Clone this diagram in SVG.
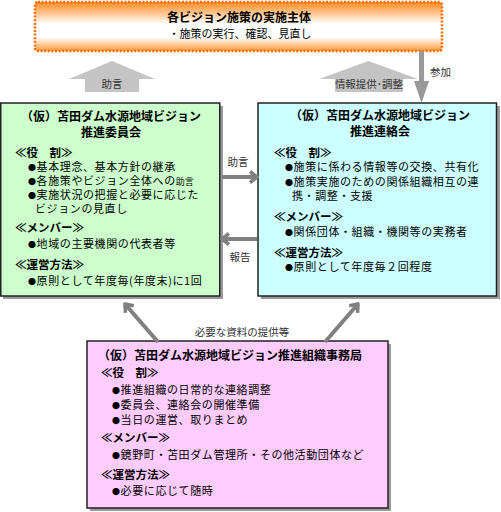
<svg xmlns="http://www.w3.org/2000/svg" width="501" height="512" viewBox="0 0 501 512">
<defs>
<linearGradient id="og" x1="0" y1="0" x2="0" y2="1">
<stop offset="0" stop-color="#ff8a1e"/>
<stop offset="0.45" stop-color="#ffffff"/>
<stop offset="0.72" stop-color="#ffffff"/>
<stop offset="1" stop-color="#ff9a3a"/>
</linearGradient>
<marker id="chev" viewBox="0 0 12 14" refX="10" refY="7" markerWidth="12" markerHeight="14" orient="auto" markerUnits="userSpaceOnUse">
<path d="M3,1.5 L10,7 L3,12.5" fill="none" stroke="#808080" stroke-width="3.5"/>
</marker>
</defs>
<style>
text{font-family:"Noto Sans CJK JP","Liberation Sans",sans-serif;fill:#000}
.t{font-size:12px;font-weight:bold;text-anchor:middle}
.h{font-size:11.5px;font-weight:bold}
.b{font-size:11px;letter-spacing:0.6px}
.d{font-size:8px}
.lbl{font-size:10.5px;fill:#333}
.box{stroke:#222;stroke-width:1.5}
.sh{fill:#9a9a9a}
.con{stroke:#808080;stroke-width:4;fill:none}
.blk{fill:#c4c4c4}
</style>
<rect width="501" height="512" fill="#fff"/>

<g id="top">
<rect x="35" y="2" width="407" height="49" rx="3" fill="url(#og)" stroke="#ff6a00" stroke-width="2.5" stroke-dasharray="2 1.6"/>
<text class="t" x="239" y="22">各ビジョン施策の実施主体</text>
<text x="240" y="38" style="font-size:11px;text-anchor:middle">・施策の実行、確認、見直し</text>
</g>

<g id="committee">
<rect class="sh" x="3" y="106" width="220" height="193"/>
<rect class="box" x="0.75" y="103" width="219" height="193" fill="#ccffcc"/>
<text class="t" x="111" y="121">（仮）苫田ダム水源地域ビジョン</text>
<text class="t" x="111" y="137">推進委員会</text>
<text class="h" x="15" y="157">≪役　割≫</text>
<text class="b" x="28" y="171"><tspan class="d">●</tspan>基本理念、基本方針の継承</text>
<text class="b" x="28" y="185"><tspan class="d">●</tspan>各施策やビジョン全体への<tspan style="font-size:9px;letter-spacing:0">助言</tspan></text>
<text class="b" x="28" y="199"><tspan class="d">●</tspan>実施状況の把握と必要に応じた</text>
<text class="b" x="35" y="213">ビジョンの見直し</text>
<text class="h" x="15" y="232">≪メンバー≫</text>
<text class="b" x="28" y="248"><tspan class="d">●</tspan>地域の主要機関の代表者等</text>
<text class="h" x="15" y="269">≪運営方法≫</text>
<text class="b" x="28" y="285"><tspan class="d">●</tspan>原則として年度毎(年度末)に1回</text>
</g>

<g id="liaison">
<rect class="sh" x="261" y="106" width="239" height="193"/>
<rect class="box" x="258" y="103" width="238.5" height="193" fill="#ccffff"/>
<text class="t" x="380" y="120">（仮）苫田ダム水源地域ビジョン</text>
<text class="t" x="380" y="136">推進連絡会</text>
<text class="h" x="274" y="157">≪役　割≫</text>
<text class="b" x="285" y="171"><tspan class="d">●</tspan>施策に係わる情報等の交換、共有化</text>
<text class="b" x="285" y="186"><tspan class="d">●</tspan>施策実施のための関係組織相互の連</text>
<text class="b" x="292" y="200">携・調整・支援</text>
<text class="h" x="274" y="221">≪メンバー≫</text>
<text class="b" x="285" y="236"><tspan class="d">●</tspan>関係団体・組織・機関等の実務者</text>
<text class="h" x="274" y="257">≪運営方法≫</text>
<text class="b" x="285" y="271"><tspan class="d">●</tspan>原則として年度毎２回程度</text>
</g>

<g id="office">
<rect class="sh" x="90" y="344" width="301" height="167"/>
<rect class="box" x="87" y="341" width="301" height="167" fill="#ffccff"/>
<text class="t" x="230" y="360">（仮）苫田ダム水源地域ビジョン推進組織事務局</text>
<text class="h" x="101" y="377">≪役　割≫</text>
<text class="b" x="112" y="394"><tspan class="d">●</tspan>推進組織の日常的な連絡調整</text>
<text class="b" x="112" y="409"><tspan class="d">●</tspan>委員会、連絡会の開催準備</text>
<text class="b" x="112" y="424"><tspan class="d">●</tspan>当日の運営、取りまとめ</text>
<text class="h" x="101" y="442">≪メンバー≫</text>
<text class="b" x="112" y="459"><tspan class="d">●</tspan>鏡野町・苫田ダム管理所・その他活動団体など</text>
<text class="h" x="101" y="479">≪運営方法≫</text>
<text class="b" x="112" y="495"><tspan class="d">●</tspan>必要に応じて随時</text>
</g>

<g id="connectors">
<polygon class="blk" points="69,79 112,61 155,79 139,79 139,92 85,92 85,79"/>
<text class="lbl" x="112" y="88" text-anchor="middle">助言</text>
<polygon class="blk" points="319,79 368.5,61 418,79 403,79 403,92 335,92 335,79"/>
<text class="lbl" x="369" y="88" text-anchor="middle">情報提供･調整</text>
<rect x="419" y="51" width="5" height="31" fill="#999"/>
<polygon points="414,81 429,81 421.5,103" fill="#999"/>
<text class="lbl" x="430" y="76">参加</text>
<line class="con" x1="222" y1="177" x2="257" y2="177" marker-end="url(#chev)"/>
<text class="lbl" x="238" y="166" text-anchor="middle">助言</text>
<line class="con" x1="257" y1="239" x2="222" y2="239" marker-end="url(#chev)"/>
<text class="lbl" x="240" y="261" text-anchor="middle">報告</text>
<line class="con" x1="158" y1="342" x2="125" y2="304" marker-end="url(#chev)"/>
<line class="con" x1="325" y1="342" x2="358" y2="304" marker-end="url(#chev)"/>
<text class="lbl" x="242" y="336" text-anchor="middle">必要な資料の提供等</text>
</g>
</svg>
